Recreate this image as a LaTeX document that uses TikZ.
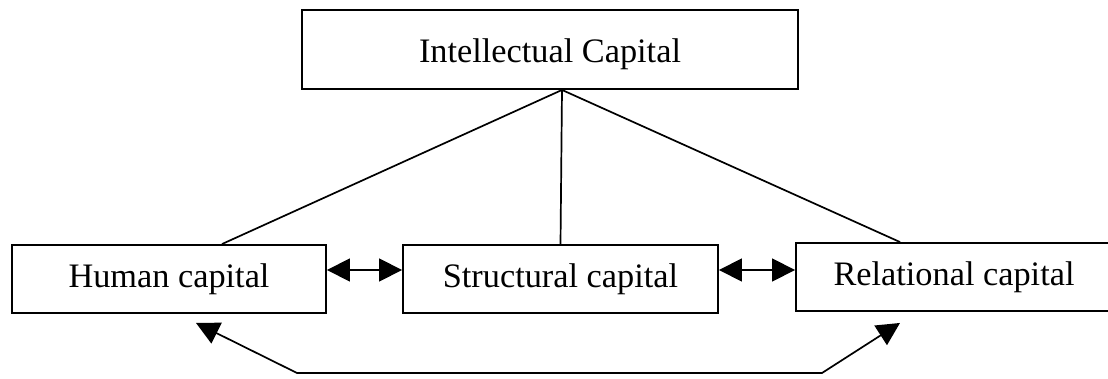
\documentclass[tikz,border=0pt]{standalone}
\usepackage{fontspec}
\setmainfont{Liberation Serif}
\usetikzlibrary{arrows.meta}
\begin{document}
\begin{tikzpicture}[x=1pt,y=-1pt,
  box/.style={draw, line width=1.9pt, inner sep=0pt, font=\fontsize{34.3}{40}\selectfont},
  conn/.style={line width=1.7pt},
  tri/.tip={Triangle[length=23pt,width=23pt]},
  biarrow/.style={line width=1.7pt, tri-tri}]
\useasboundingbox (0,0) rectangle (1108,379);
\clip (0,0) rectangle (1108,379);
\node[box, minimum width=496pt, minimum height=79pt] (ic) at (550,49.5) {\raisebox{-5pt}[\height][\depth]{Intellectual Capital}};
\node[box, minimum width=314pt, minimum height=68pt] (hc) at (169,279) {Human capital};
\node[box, minimum width=315pt, minimum height=68pt] (sc) at (560.5,279) {Structural capital};
\node[box, minimum width=316pt, minimum height=68pt] (rc) at (954,277) {Relational capital};
% lines from the top box
\coordinate (apex) at ([xshift=12pt]ic.south);
\draw[conn] (apex) -- ([xshift=53pt]hc.north);
\draw[conn] (apex) -- (sc.north);
\draw[conn] (apex) -- ([xshift=-54pt]rc.north);
% double arrows between boxes
\draw[biarrow] (hc.east |- 0,270) -- (sc.west |- 0,270);
\draw[biarrow] (sc.east |- 0,270) -- (rc.west |- 0,270);
% bottom double arrow
\coordinate (hl) at ([xshift=27pt,yshift=-9pt]hc.south);
\coordinate (bl) at (297,373);
\coordinate (br) at (822,373);
\coordinate (rl) at ([xshift=-54pt,yshift=-11pt]rc.south);
\draw[biarrow] (hl) -- (bl) -- (br) -- (rl);
\end{tikzpicture}
\end{document}
